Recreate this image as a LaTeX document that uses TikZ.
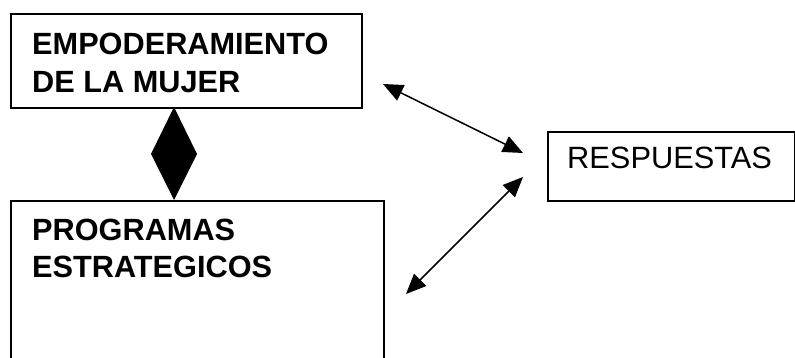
\documentclass[tikz,border=0pt]{standalone}
\usepackage{fontspec}
\setmainfont{Liberation Sans}
\usetikzlibrary{arrows.meta}
\begin{document}
\begin{tikzpicture}[x=1pt,y=-1pt,
  boxstyle/.style={draw=black, line width=1.6pt, fill=none, inner sep=0pt, anchor=north west},
  boldtxt/.style={anchor=base west, inner sep=0pt, font=\fontsize{30.7}{38}\selectfont\bfseries},
  plaintxt/.style={anchor=base west, inner sep=0pt, font=\fontsize{30.8}{38}\selectfont},
  headtip/.tip={Triangle[length=20pt,width=17pt]},
  dblarrow/.style={line width=1.5pt, headtip-headtip}]
\clip (0,0) rectangle (795,358);
\fill[white] (0,0) rectangle (795,358);
% boxes
\node[boxstyle, minimum width=351pt, minimum height=94pt] (emp) at (10,13) {};
\node[boxstyle, minimum width=373pt, minimum height=200pt] (prog) at (10,200) {};
\node[boxstyle, minimum width=247pt, minimum height=69pt] (resp) at (547,131) {};
% texts
\node[boldtxt] (emp1) at (32,55) {EMPODERAMIENTO};
\node[boldtxt] (emp2) at (32,93) {DE LA MUJER};
\node[boldtxt] (prog1) at (32,240.5) {PROGRAMAS};
\node[boldtxt] (prog2) at (32,277.5) {ESTRATEGICOS};
\node[plaintxt] (resp1) at (567,169) {RESPUESTAS};
% diamond between the two left boxes
\fill[black] (174,107) -- (197,154) -- (174,200) -- (151,154) -- cycle;
% arrows
\coordinate (a1) at (383,84);
\coordinate (b1) at (523,153);
\coordinate (a2) at (523,177);
\coordinate (b2) at (406,294);
\draw[dblarrow] (a1) -- (b1);
\draw[dblarrow] (a2) -- (b2);
\end{tikzpicture}
\end{document}
